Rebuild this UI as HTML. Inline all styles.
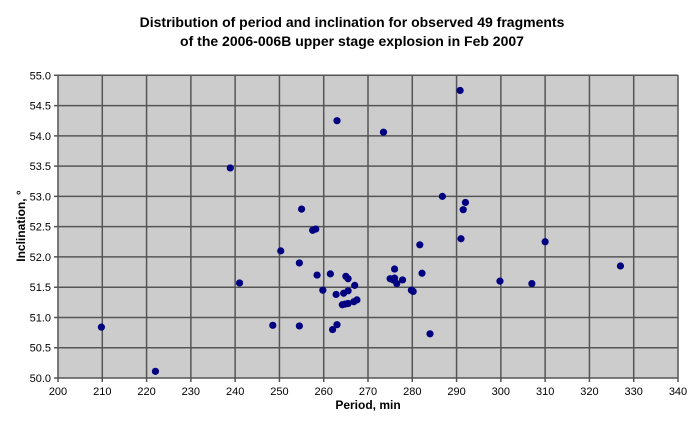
<!DOCTYPE html>
<html><head><meta charset="utf-8"><style>
body{margin:0;background:#fff;font-family:"Liberation Sans",Arial,sans-serif}
svg text{font-family:"Liberation Sans",Arial,sans-serif}
</style></head><body>
<svg width="700" height="433" viewBox="0 0 700 433">
<text x="352" y="27" text-anchor="middle" font-size="14" font-weight="bold">Distribution of period and inclination for observed 49 fragments</text>
<text x="352" y="46" text-anchor="middle" font-size="14" font-weight="bold">of the 2006-006B upper stage explosion in Feb 2007</text>
<rect x="58" y="75.3" width="620" height="302.7" fill="#cccccc" stroke="#888"/>
<g id="grid"></g>
<g id="xt"></g>
<g id="yt"></g>
<g id="pts"></g>
<text x="368" y="409" text-anchor="middle" font-size="12" font-weight="bold">Period, min</text>
<text transform="translate(25,226) rotate(-90)" text-anchor="middle" font-size="12" font-weight="bold">Inclination, °</text>
</svg>
<script>
const xTicks=[200,210,220,230,240,250,260,270,280,290,300,310,320,330,340];
const yTicks=[50.0,50.5,51.0,51.5,52.0,52.5,53.0,53.5,54.0,54.5,55.0];
const periods=[209.8,222,238.9,241,248.5,250.3,254.5,254.5,255,257.5,258.2,258.5,259.8,261.5,262,262.8,263,263,264.5,264.8,265,265.5,265.5,265.5,266.8,267,267.5,273.5,275,275.7,276,276,276.5,277.8,279.8,280.2,281.7,282.2,284,286.8,290.8,291,291.5,292,299.8,307,310,327,264.2];
const inclinations=[50.84,50.11,53.47,51.57,50.87,52.1,51.9,50.86,52.79,52.44,52.46,51.7,51.45,51.72,50.8,51.38,50.88,54.25,51.4,51.22,51.68,51.64,51.44,51.23,51.26,51.53,51.29,54.06,51.64,51.62,51.65,51.8,51.56,51.62,51.45,51.43,52.2,51.73,50.73,53.0,54.75,52.3,52.78,52.9,51.6,51.56,52.25,51.85,51.21];
const X0=58,X1=678,Y0=378,Y1=75.3;
const sx=v=>X0+(v-200)/140*(X1-X0);
const sy=v=>Y0-(v-50)/5*(Y0-Y1);
const NS="http://www.w3.org/2000/svg";
const g=document.getElementById('grid'),xt=document.getElementById('xt'),yt=document.getElementById('yt'),pts=document.getElementById('pts');
function mk(t,a){const e=document.createElementNS(NS,t);for(const k in a)e.setAttribute(k,a[k]);return e;}
xTicks.forEach(v=>{
 const l=mk('line',{x1:sx(v),x2:sx(v),y1:Y1,y2:Y0+4,stroke:'#555','stroke-width':1.5});
 
 
 g.appendChild(l);
 const t=mk('text',{x:sx(v),y:Y0+17,'text-anchor':'middle','font-size':11});
 t.textContent=v;
 
 
 xt.appendChild(t);
});
yTicks.forEach(v=>{
 const l=mk('line',{x1:X0-4,x2:X1,y1:sy(v),y2:sy(v),stroke:'#555','stroke-width':1.5});
 
 
 g.appendChild(l);
 const t=mk('text',{x:X0-7,y:sy(v)+4,'text-anchor':'end','font-size':11});
 t.textContent=v.toFixed(1);
 
 
 yt.appendChild(t);
});
periods.forEach((p,i)=>{
 const c=mk('circle',{cx:sx(p),cy:sy(inclinations[i]),r:3.6,fill:'#000080'});
 
 
 pts.appendChild(c);
});
</script>
</body></html>
